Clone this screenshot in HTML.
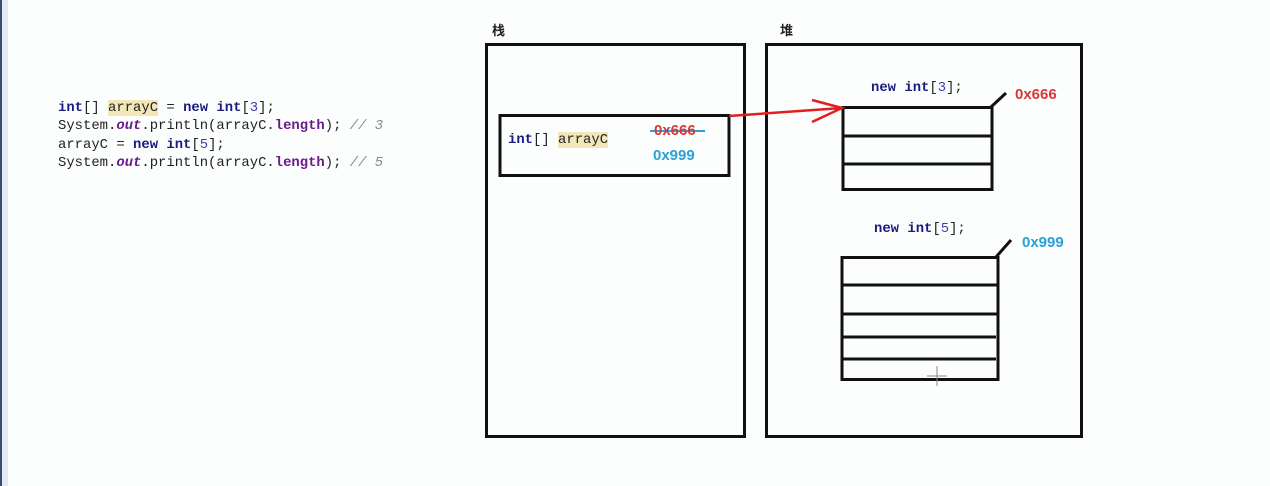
<!DOCTYPE html>
<html><head><meta charset="utf-8"><style>
body{margin:0;width:1270px;height:486px;background:#fcfefd;position:relative;overflow:hidden;font-family:"Liberation Mono",monospace}
.lb{position:absolute;left:0;top:0;width:2px;height:486px;background:#3a4a78}
.lb2{position:absolute;left:2px;top:0;width:6px;height:486px;background:#e4e8f0}
.code{position:absolute;left:58px;top:99px;font-size:13.9px;line-height:18.3px;color:#222;white-space:pre}
.k{color:#1a1a80;font-weight:bold}
.hl{background:#f3e6b8}
.o{color:#6a1a8a;font-weight:bold;font-style:italic}
.f{color:#6a1a8a;font-weight:bold}
.c{color:#888;font-style:italic}
.n{color:#4040b0}
.t{position:absolute;white-space:pre;font-size:13.9px;color:#222}
.s{position:absolute;font-family:"Liberation Sans",sans-serif;font-weight:bold;font-size:15px}
</style></head><body>
<div class="lb"></div><div class="lb2"></div>
<div class="code"><span class="k">int</span>[] <span class="hl">arrayC</span> = <span class="k">new</span> <span class="k">int</span>[<span class="n">3</span>];
System.<span class="o">out</span>.println(arrayC.<span class="f">length</span>); <span class="c">// 3</span>
arrayC = <span class="k">new</span> <span class="k">int</span>[<span class="n">5</span>];
System.<span class="o">out</span>.println(arrayC.<span class="f">length</span>); <span class="c">// 5</span></div>
<div class="s" style="left:492px;top:20px;font-family:'Noto Sans CJK SC',sans-serif;font-size:13px;color:#222">栈</div>
<div class="s" style="left:780px;top:20px;font-family:'Noto Sans CJK SC',sans-serif;font-size:13px;color:#222">堆</div>
<svg width="1270" height="486" style="position:absolute;left:0;top:0" fill="none" stroke="#111" stroke-width="3">
<rect x="486.5" y="44.5" width="258" height="392"/>
<rect x="766.5" y="44.5" width="315" height="392"/>
<rect x="500" y="115.5" width="229" height="60"/>
<rect x="843" y="107.5" width="149" height="82"/>
<line x1="843" y1="136" x2="992" y2="136"/><line x1="843" y1="164" x2="992" y2="164"/>
<line x1="991" y1="107" x2="1006" y2="93"/>
<rect x="842" y="257.5" width="156" height="122"/>
<line x1="841" y1="285" x2="998" y2="285"/><line x1="842" y1="314" x2="998" y2="314"/>
<line x1="842" y1="337" x2="996" y2="337"/><line x1="842" y1="359" x2="996" y2="359"/>
<line x1="996" y1="257" x2="1011" y2="240"/>
<g stroke="#e02020" stroke-width="2.5"><path d="M729 116 L842 108"/><path d="M812 100 L842 108 L812 122"/></g>
<line x1="650" y1="131" x2="705" y2="131" stroke="#2aa0d8" stroke-width="2"/>
<g stroke="#888" stroke-width="1"><line x1="937" y1="366" x2="937" y2="386"/><line x1="927" y1="376" x2="947" y2="376"/></g>
</svg>
<div class="t" style="left:508px;top:132px"><span class="k">int</span>[] <span class="hl">arrayC</span></div>
<div class="s" style="left:654px;top:122px;color:#d83838">0x666</div>
<div class="s" style="left:653px;top:147px;color:#2aa0d8">0x999</div>
<div class="t" style="left:871px;top:80px"><span class="k">new</span> <span class="k">int</span>[<span class="n">3</span>];</div>
<div class="s" style="left:1015px;top:86px;color:#d83838">0x666</div>
<div class="t" style="left:874px;top:221px"><span class="k">new</span> <span class="k">int</span>[<span class="n">5</span>];</div>
<div class="s" style="left:1022px;top:234px;color:#2aa0d8">0x999</div>
</body></html>
